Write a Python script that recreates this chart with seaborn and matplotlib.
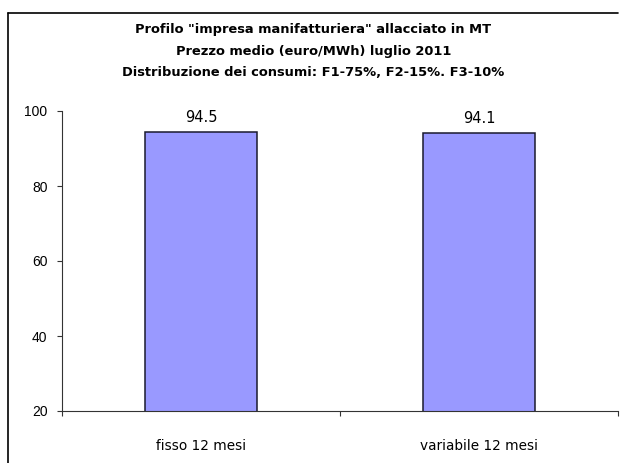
import matplotlib
matplotlib.use("Agg")
import matplotlib.pyplot as plt
from matplotlib.lines import Line2D
import seaborn as sns
import pandas as pd

categories = ["fisso 12 mesi", "variabile 12 mesi"]
prezzi = [94.5, 94.1]
titolo = ['Profilo "impresa manifatturiera" allacciato in MT',
          'Prezzo medio (euro/MWh) luglio 2011',
          'Distribuzione dei consumi: F1-75%, F2-15%. F3-10%']
y_ticks = [20, 40, 60, 80, 100]

df = pd.DataFrame({"categoria": categories, "prezzo": prezzi})

sns.set_style("white")
plt.rcParams['font.family'] = ['DejaVu Sans']
plt.rcParams['text.color'] = 'black'
plt.rcParams['xtick.color'] = 'black'
plt.rcParams['ytick.color'] = 'black'

fig = plt.figure(figsize=(6.27, 4.63), dpi=100)
ax = fig.add_axes([62 / 627, 1 - 411 / 463, (618 - 62) / 627, 300 / 463])

sns.barplot(data=df, x="categoria", y="prezzo", color="#9999FF", saturation=1,
            width=0.4, edgecolor="#1a1a2e", linewidth=1.1, ax=ax)

ax.set_ylim(20, 100)
ax.set_xlim(-0.5, 1.5)
ax.set_yticks(y_ticks)
ax.set_yticklabels([str(v) for v in y_ticks], fontsize=10, family="Liberation Sans")
ax.tick_params(axis="y", left=True, length=3.5, width=0.8, color="#333333", pad=7)

# category labels between boundary ticks
ax.set_xticks([0, 1])
ax.set_xticklabels(categories, fontsize=9.8)
ax.tick_params(axis="x", which="major", length=0, pad=20)
ax.set_xticks([-0.5, 0.5, 1.5], minor=True)
ax.tick_params(axis="x", which="minor", bottom=True, length=3.5, width=0.8, color="#333333")

ax.set_xlabel("")
ax.set_ylabel("")
for side in ["top", "right"]:
    ax.spines[side].set_visible(False)
for side in ["left", "bottom"]:
    ax.spines[side].set_color("#333333")
    ax.spines[side].set_linewidth(0.8)

for i, v in enumerate(prezzi):
    ax.annotate(f"{v}", (i, v), xytext=(0, 5), textcoords="offset points",
                ha="center", va="bottom", fontsize=10.5)

for k, line in enumerate(titolo):
    fig.text(0.5, 1 - (30 + k * 21.5) / 463, line, ha="center", va="center",
             fontsize=9.4, fontweight="bold")

# outer frame (left and top only)
fig.add_artist(Line2D([8 / 627, 8 / 627], [0, 1 - 13 / 463], color="black", lw=1.2,
                      transform=fig.transFigure))
fig.add_artist(Line2D([8 / 627, 618 / 627], [1 - 13 / 463, 1 - 13 / 463], color="black",
                      lw=1.2, transform=fig.transFigure))

fig.savefig("out.png", dpi=100)
